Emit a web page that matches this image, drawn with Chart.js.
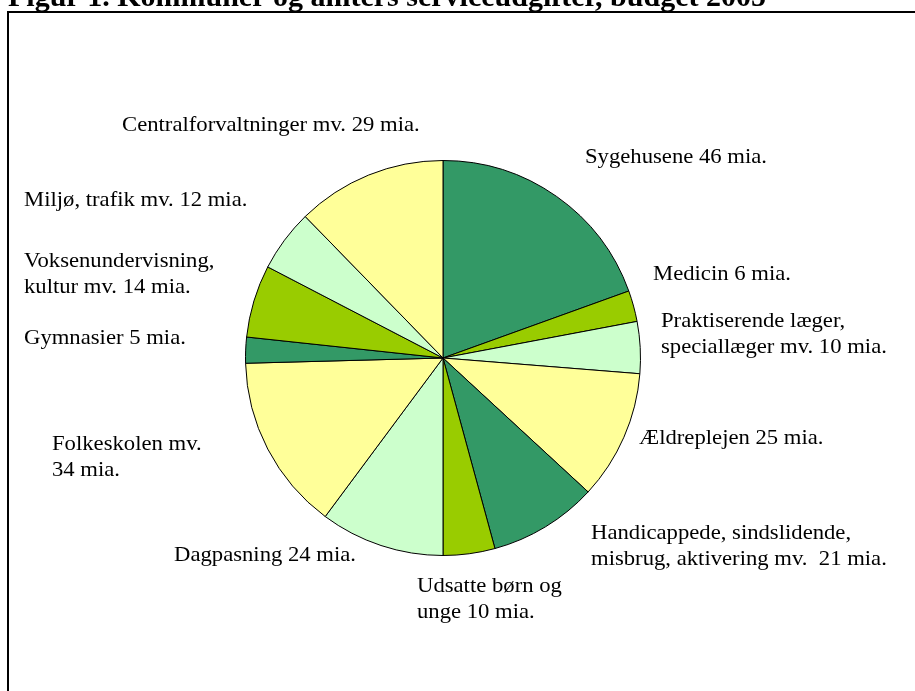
<!DOCTYPE html>
<html>
<head>
<meta charset="utf-8">
<script src="https://cdn.jsdelivr.net/npm/chart.js@4"></script>
<style>
  html, body { margin: 0; padding: 0; background: #fff; }
  #wrap { position: relative; width: 915px; height: 691px; overflow: hidden; }
</style>
</head>
<body>
<div id="wrap"><canvas id="pieChart" width="915" height="691"></canvas></div>
<script>
// Budget 2005, mia. kr.
const categories = [
    ["Sygehusene 46 mia."],
    ["Medicin 6 mia."],
    ["Praktiserende læger,", "speciallæger mv. 10 mia."],
    ["Ældreplejen 25 mia."],
    ["Handicappede, sindslidende,", "misbrug, aktivering mv.  21 mia."],
    ["Udsatte børn og", "unge 10 mia."],
    ["Dagpasning 24 mia."],
    ["Folkeskolen mv.", "34 mia."],
    ["Gymnasier 5 mia."],
    ["Voksenundervisning,", "kultur mv. 14 mia."],
    ["Miljø, trafik mv. 12 mia."],
    ["Centralforvaltninger mv. 29 mia."]
];
const values = [46, 6, 10, 25, 21, 10, 24, 34, 5, 14, 12, 29];
const title = "Figur 1. Kommuner og amters serviceudgifter, budget 2005";

const palette = ['#339966', '#99cc00', '#ccffcc', '#ffff99'];
const sliceColors = values.map((v, i) => palette[i % palette.length]);

// where each label sits (left x, y of first line centre)
const labelPos = [
    [585, 157], [653, 274], [661, 321], [639, 438], [591, 533], [417, 586],
    [174, 555], [52, 444], [24, 338], [24, 261], [24, 200], [122, 125]
];

const serif = '"Liberation Serif", "DejaVu Serif", serif';

const decorPlugin = {
    id: 'decor',
    afterDraw(chart) {
        const ctx = chart.ctx;
        ctx.save();
        // frame
        ctx.strokeStyle = '#000';
        ctx.lineWidth = 2;
        ctx.beginPath();
        ctx.moveTo(8, 700);
        ctx.lineTo(8, 12);
        ctx.lineTo(920, 12);
        ctx.stroke();

        // title, cut by the top edge
        ctx.fillStyle = '#000';
        ctx.font = 'bold 30px ' + serif;
        ctx.textBaseline = 'alphabetic';
        ctx.textAlign = 'left';
        ctx.fillText(title, 8, 6, 758);

        // slice labels (stretched a little to match the wider original face)
        ctx.font = '21px ' + serif;
        ctx.textBaseline = 'middle';
        const sx = 1.08;
        categories.forEach((lines, i) => {
            const [x, y] = labelPos[i];
            lines.forEach((line, j) => {
                ctx.save();
                ctx.translate(x, y + j * 26);
                ctx.scale(sx, 1);
                ctx.fillText(line, 0, 0);
                ctx.restore();
            });
        });
        ctx.restore();
    }
};

new Chart(document.getElementById('pieChart'), {
    type: 'pie',
    data: {
        labels: categories.map(c => c.join(' ')),
        datasets: [{
            data: values,
            backgroundColor: sliceColors,
            borderColor: '#000',
            borderWidth: 1
        }]
    },
    options: {
        responsive: false,
        animation: false,
        layout: { padding: { left: 244, right: 273, top: 160, bottom: 135 } },
        plugins: {
            legend: { display: false },
            tooltip: { enabled: false }
        }
    },
    plugins: [decorPlugin]
});
</script>
</body>
</html>
